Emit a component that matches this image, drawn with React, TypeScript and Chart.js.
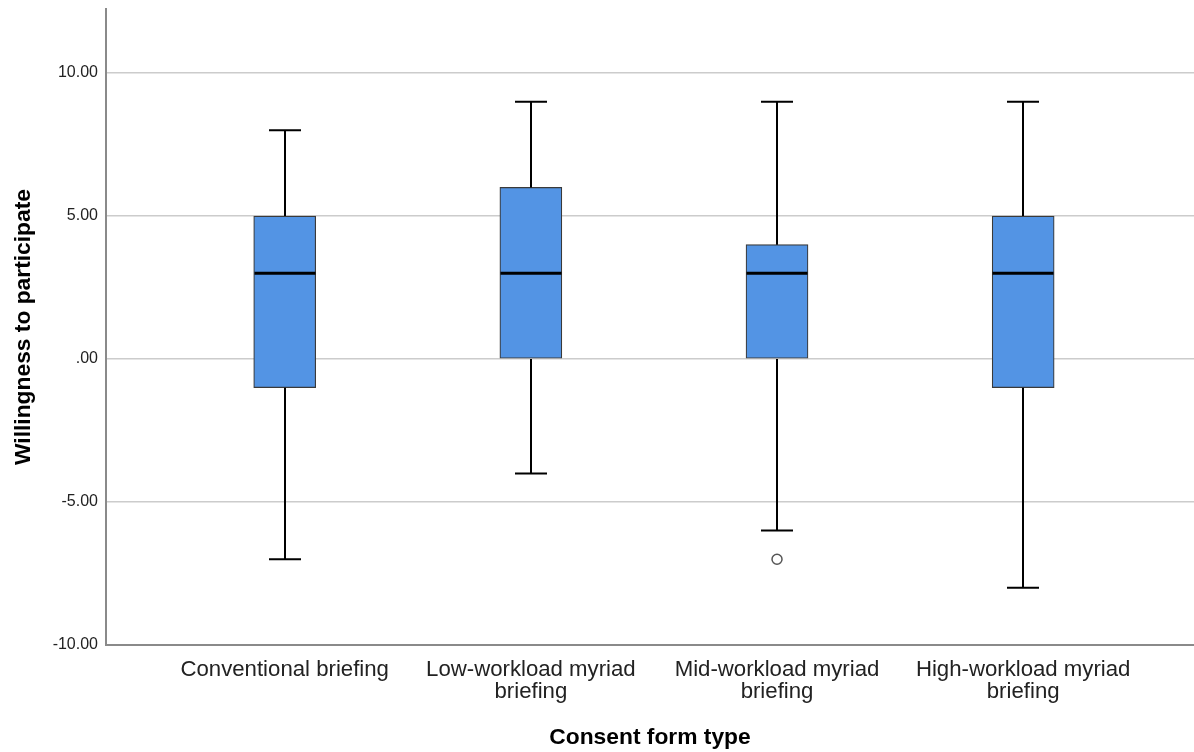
import React, { useEffect, useRef } from "react";
import { Chart, registerables } from "chart.js";

Chart.register(...registerables);

const CATEGORIES: (string | string[])[] = [
  "Conventional briefing",
  ["Low-workload myriad", "briefing"],
  ["Mid-workload myriad", "briefing"],
  ["High-workload myriad", "briefing"],
];
const CAT_POS = [1, 2, 3, 4];
const WHISKER_LOW = [-7, -4, -6, -8];
const Q1 = [-1, 0, 0, -1];
const MEDIAN = [3, 3, 3, 3];
const Q3 = [5, 6, 4, 5];
const WHISKER_HIGH = [8, 9, 9, 9];
const OUTLIER_X = [3];
const OUTLIER_Y = [-7];
const Y_TICKS = [-10, -5, 0, 5, 10];
const Y_TICK_LABELS = ["-10.00", "-5.00", ".00", "5.00", "10.00"];

const FONT = "'Liberation Sans', Arial, Helvetica, sans-serif";

const boxPlugin = {
  id: "boxWhiskers",
  afterDatasetsDraw(chart: any) {
    const { ctx, scales } = chart;
    const x = scales.x;
    const y = scales.y;
    ctx.save();
    CAT_POS.forEach((c, i) => {
      const px = Math.round(x.getPixelForValue(c));
      const yLo = y.getPixelForValue(WHISKER_LOW[i]);
      const yHi = y.getPixelForValue(WHISKER_HIGH[i]);
      const yQ1 = y.getPixelForValue(Q1[i]);
      const yQ3 = y.getPixelForValue(Q3[i]);
      const yMed = y.getPixelForValue(MEDIAN[i]);
      ctx.strokeStyle = "#000";
      ctx.lineWidth = 2;
      ctx.beginPath();
      ctx.moveTo(px, yQ3);
      ctx.lineTo(px, yHi);
      ctx.moveTo(px - 16, yHi);
      ctx.lineTo(px + 16, yHi);
      ctx.moveTo(px, yQ1);
      ctx.lineTo(px, yLo);
      ctx.moveTo(px - 16, yLo);
      ctx.lineTo(px + 16, yLo);
      ctx.stroke();
      ctx.lineWidth = 3;
      ctx.beginPath();
      ctx.moveTo(px - 30.5, yMed);
      ctx.lineTo(px + 30.5, yMed);
      ctx.stroke();
    });
    ctx.restore();
  },
};

export default function App() {
  const ref = useRef<HTMLCanvasElement>(null);
  useEffect(() => {
    if (!ref.current) return;
    const chart = new Chart(ref.current, {
      type: "bar",
      data: {
        datasets: [
          {
            type: "bar",
            data: CAT_POS.map((c, i) => ({ x: c, y: [Q1[i], Q3[i]] })) as any,
            backgroundColor: "#5394e4",
            borderColor: "#3a3a3a",
            borderWidth: 1.2,
            borderSkipped: false,
            barThickness: 62,
          },
          {
            type: "scatter",
            data: OUTLIER_X.map((c, i) => ({ x: c, y: OUTLIER_Y[i] })),
            pointStyle: "circle",
            pointRadius: 5,
            pointBackgroundColor: "#ffffff",
            pointBorderColor: "#555555",
            pointBorderWidth: 1.5,
          } as any,
        ],
      },
      options: {
        animation: false,
        responsive: false,
        layout: { autoPadding: false, padding: { top: 9, right: 0, bottom: 0, left: 0 } },
        plugins: { legend: { display: false }, tooltip: { enabled: false } },
        scales: {
          x: {
            type: "linear",
            min: 0.274,
            max: 4.694,
            offset: false,
            grid: { display: false },
            border: { display: true, color: "#8a8a8a", width: 2 },
            afterBuildTicks: (s: any) => {
              s.ticks = CAT_POS.map((v) => ({ value: v }));
            },
            afterFit: (s: any) => {
              s.height = 107;
              s.paddingLeft = 0;
              s.paddingRight = 0;
            },
            ticks: {
              autoSkip: false,
              maxRotation: 0,
              minRotation: 0,
              padding: 6,
              color: "#222",
              font: { family: FONT, size: 22.2, lineHeight: 1.0 },
              callback: (v: any) => {
                const i = CAT_POS.indexOf(Number(v));
                return i >= 0 ? CATEGORIES[i] : "";
              },
            },
            title: {
              display: true,
              text: "Consent form type",
              color: "#000",
              font: { family: FONT, size: 22.8, weight: "bold", lineHeight: 1.2 },
              padding: { top: 0, bottom: 1 },
            },
          },
          y: {
            type: "linear",
            min: -10,
            max: 12.24,
            grid: { color: "#cccccc", lineWidth: 1.5, drawTicks: false },
            border: { display: true, color: "#8a8a8a", width: 2 },
            afterBuildTicks: (s: any) => {
              s.ticks = Y_TICKS.map((v) => ({ value: v }));
            },
            afterFit: (s: any) => {
              s.width = 106;
              s.paddingTop = 0;
              s.paddingBottom = 0;
            },
            ticks: {
              padding: 8,
              color: "#222",
              font: { family: FONT, size: 16 },
              callback: (v: any) => {
                const i = Y_TICKS.indexOf(Number(v));
                return i >= 0 ? Y_TICK_LABELS[i] : "";
              },
            },
            title: {
              display: true,
              text: "Willingness to participate",
              color: "#000",
              font: { family: FONT, size: 22.8, weight: "bold", lineHeight: 1.2 },
              padding: { top: 10, bottom: 0 },
            },
          },
        },
      },
      plugins: [boxPlugin],
    });
    return () => chart.destroy();
  }, []);
  return (
    <div style={{ position: "fixed", left: 0, top: 0, width: 1194, height: 752, background: "#fff" }}>
      <canvas ref={ref} width={1194} height={752} style={{ display: "block" }} />
    </div>
  );
}
